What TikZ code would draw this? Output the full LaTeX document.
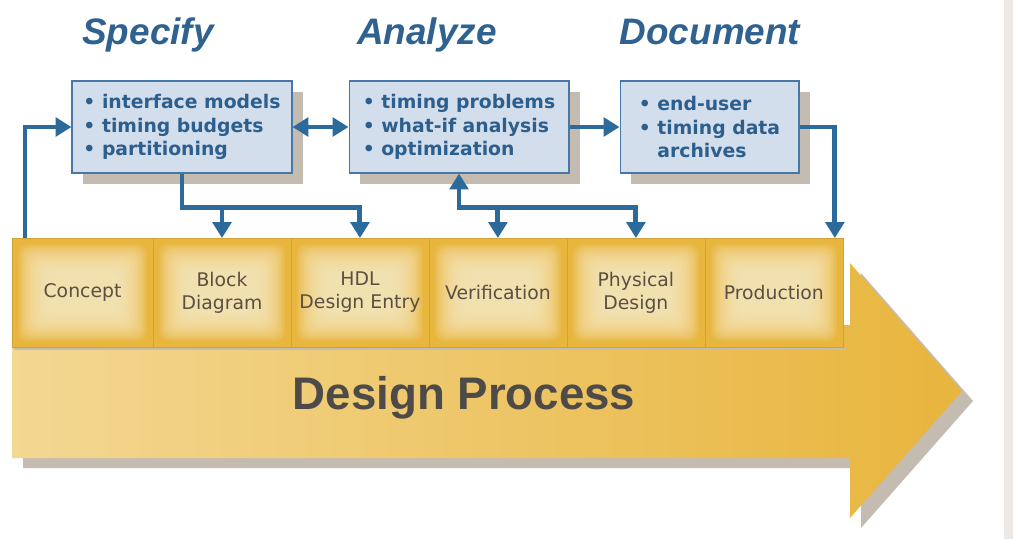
\documentclass[tikz,border=0pt]{standalone}
\usepackage{fontspec}
\setmainfont{DejaVu Sans}
\newfontfamily\fuenteTitulo{Liberation Sans}
\usepackage{tikz}
\usetikzlibrary{arrows.meta, positioning, calc, shadows}
\definecolor{colorFlecha}{HTML}{2C6A9B}
\definecolor{colorTitulo}{HTML}{2F6291}
\definecolor{colorCaja}{HTML}{D3DEEC}
\definecolor{colorBorde}{HTML}{4777A6}
\definecolor{colorTexto}{HTML}{2D5F8E}
\definecolor{colorSombra}{HTML}{C4BCB0}
\definecolor{colorOro}{HTML}{E8B53D}
\definecolor{colorOroClaro}{HTML}{FAEBC2}
\definecolor{colorOroIzq}{HTML}{F3D792}
\definecolor{colorEtapa}{HTML}{5B4F42}
\definecolor{colorProceso}{HTML}{4D4A47}
\definecolor{colorMargen}{HTML}{ECE9E6}

\begin{document}
\begin{tikzpicture}[x=0.02cm, y=-0.02cm, node distance=0pt,
        caja/.style={draw=colorBorde, fill=colorCaja, line width=0.6pt, minimum height=1.84cm,
            align=left, text=colorTexto, font=\bfseries\fontsize{10.7}{13.3}\selectfont,
            drop shadow={shadow xshift=0.22cm, shadow yshift=-0.22cm, fill=colorSombra, opacity=1}},
        etapa/.style={draw=colorOro!90!black, line width=0.4pt, fill=colorOro,
            path picture={\foreach \i in {1,...,20}
                \fill[colorOroClaro, opacity=0.1, rounded corners=0.2cm]
                    ([shift={(0.08cm+\i*0.03cm,0.08cm+\i*0.03cm)}]path picture bounding box.south west)
                    rectangle ([shift={(-0.08cm-\i*0.03cm,-0.08cm-\i*0.03cm)}]path picture bounding box.north east);},
            minimum width=2.76cm, minimum height=2.18cm, outer sep=0pt, align=center,
            text=colorEtapa, font=\fontsize{10.7}{13}\selectfont},
        titulo/.style={anchor=base, text=colorTitulo, font=\fuenteTitulo\bfseries\itshape\fontsize{21}{25}\selectfont},
        flecha/.style={-{Triangle[length=9pt, width=10.5pt]}, colorFlecha, line width=2.8pt},
        flechaDoble/.style={flecha, {Triangle[length=9pt, width=10.5pt]}-{Triangle[length=9pt, width=10.5pt]}}
    ]
        \fill[white] (0,0) rectangle (1013,539);
        \useasboundingbox (0,0) rectangle (1013,539);
        \fill[colorMargen] (1004,0) rectangle (1013,539);

        \fill[colorSombra] (23,335) -- (861,335) -- (861,273) -- (973,401) -- (861,528) -- (861,468) -- (23,468) -- cycle;
        \path[left color=colorOroIzq, right color=colorOro] (12,325) -- (850,325) -- (850,263) -- (962,391)
            -- (850,518) -- (850,458) -- (12,458) -- cycle;
        \node[anchor=base, text=colorProceso, font=\fuenteTitulo\bfseries\fontsize{26}{30}\selectfont]
            (proceso) at (464,409) {Design Process};

        \fill[colorSombra] (14,347) rectangle (845,350);
        \node[etapa, minimum width=2.82cm] (concepto) at (82.5,292.5) {Concept};
        \node[etapa, right=of concepto] (bloque) {Block\\Diagram};
        \node[etapa, right=of bloque] (hdl) {HDL\\Design Entry};
        \node[etapa, right=of hdl] (verificacion) {Verification};
        \node[etapa, right=of verificacion] (fisico) {Physical\\Design};
        \node[etapa, right=of fisico] (produccion) {Production};

        \node[titulo] (tEspecificar) at (148,44) {Specify};
        \node[titulo] (tAnalizar) at (427,44) {Analyze};
        \node[titulo] (tDocumentar) at (710,44) {Document};

        \node[caja, minimum width=4.4cm] (especificar) at (182,127)
            {• interface models\\• timing budgets\\• partitioning};
        \node[caja, minimum width=4.4cm] (analizar) at (459,127)
            {• timing problems\\• what-if analysis\\• optimization};
        \node[caja, minimum width=3.58cm] (documentar) at (709.5,127)
            {• end-user\\• timing data\\\hphantom{• }archives};

        \draw[flecha] ($(concepto.north west)+(13,0)$) |- (especificar.west);
        \draw[flechaDoble] (especificar.east) -- (analizar.west);
        \draw[flecha] (analizar.east) -- (documentar.west);
        \draw[flecha] (documentar.east) -| ($(produccion.north east)+(-8,0)$);
        \coordinate (codoA) at ($(especificar.south)+(0,34)$);
        \draw[flecha] (especificar.south) -- (codoA) -| (hdl.north);
        \draw[flecha] (codoA -| bloque.north) -- (bloque.north);
        \coordinate (codoB) at ($(analizar.south)+(0,34)$);
        \draw[flechaDoble] (analizar.south) -- (codoB) -| (fisico.north);
        \draw[flecha] (codoB -| verificacion.north) -- (verificacion.north);
    \end{tikzpicture}
\end{document}
